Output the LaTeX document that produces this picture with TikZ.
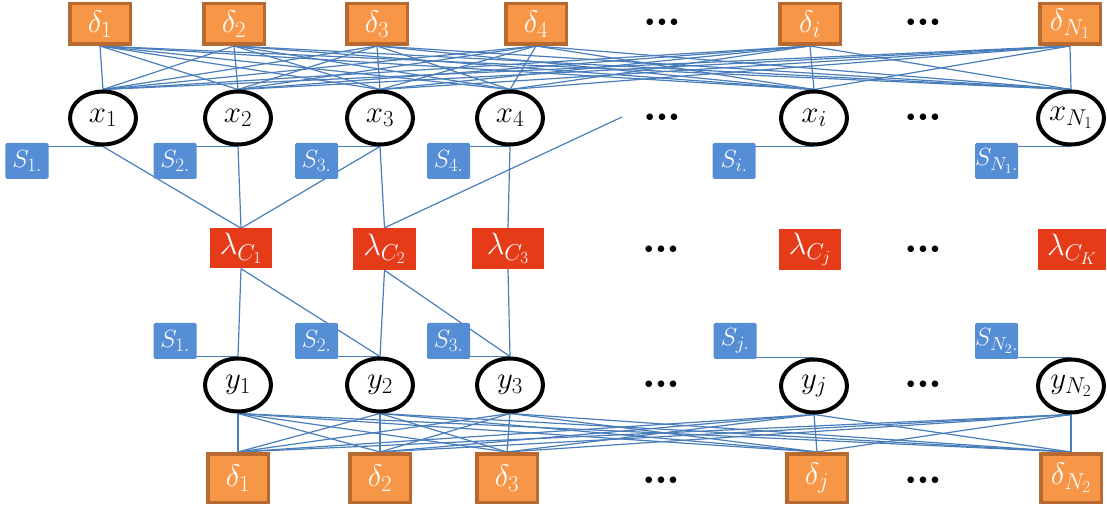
\RequirePackage{fix-cm}
\documentclass[tikz,border=0pt]{standalone}
\usetikzlibrary{backgrounds,shapes.geometric}
\DeclareMathSizes{31}{31}{23}{17}
\DeclareMathSizes{25}{25}{19}{14}
\definecolor{dfill}{HTML}{F79646}
\definecolor{dline}{HTML}{B8692F}
\definecolor{sfill}{HTML}{558ED5}
\definecolor{lred}{HTML}{E63B19}
\definecolor{conn}{HTML}{4A7EBB}
\begin{document}
\begin{tikzpicture}[x=1bp,y=-1bp,
  dbox/.style={draw=dline, line width=3.5bp, fill=dfill, text=white, minimum width=60.5bp, minimum height=40.5bp, inner sep=0pt, font=\fontsize{31}{34}\selectfont},
  dboxb/.style={dbox, minimum height=48.5bp},
  var/.style={ellipse, draw=black, line width=4bp, fill=white, minimum width=66bp, minimum height=53bp, inner sep=0pt, font=\fontsize{31}{34}\selectfont},
  sbox/.style={fill=sfill, rounded corners=1.5bp, text=white, minimum width=43bp, minimum height=36bp, inner sep=0pt, font=\fontsize{25}{28}\selectfont},
  lbox/.style={fill=lred, text=white, minimum width=62bp, minimum height=40bp, inner sep=0pt, font=\fontsize{31}{34}\selectfont},
  dotsn/.style={inner sep=0pt, font=\fontsize{17}{20}\selectfont},
  conn/.style={draw=conn, line width=1.2bp}]
\useasboundingbox (0,0) rectangle (1107,508);
% top deltas
\node[dbox] (dt1) at (100,24) {$\delta_1$};
\node[dbox] (dt2) at (234,24) {$\delta_2$};
\node[dbox] (dt3) at (377,24) {$\delta_3$};
\node[dbox] (dt4) at (536,24) {$\delta_4$};
\node[dbox] (dt5) at (810,24) {$\delta_i$};
\node[dbox] (dt6) at (1070,24) {$\delta_{N_1}$};
\node[dotsn] (da1) at (662,23) {$\bullet\bullet\bullet$};
\node[dotsn] (da2) at (923,23) {$\bullet\bullet\bullet$};
% x row
\node[var] (x1) at (103,118) {$x_1$};
\node[var] (x2) at (238,118) {$x_2$};
\node[var] (x3) at (380,118) {$x_3$};
\node[var] (x4) at (510,118) {$x_4$};
\node[var] (x5) at (814,118) {$x_i$};
\node[var] (x6) at (1071,118) {$x_{N_1}$};
\node[dotsn] (db1d) at (662,118) {$\bullet\bullet\bullet$};
\node[dotsn] (db2d) at (923,118) {$\bullet\bullet\bullet$};
% top S
\node[sbox] (s1) at (27,161) {$S_{1.}$};
\node[sbox] (s2) at (175,161) {$S_{2.}$};
\node[sbox] (s3) at (316.5,161) {$S_{3.}$};
\node[sbox] (s4) at (448.5,161) {$S_{4.}$};
\node[sbox] (s5) at (734,161) {$S_{i.}$};
\node[sbox] (s6) at (996.5,161) {$S_{N_1.}$};
% lambda row
\node[lbox] (l1) at (241,248.5) {$\lambda_{C_1}$};
\node[lbox, minimum width=63bp, minimum height=42bp] (l2) at (384.5,249) {$\lambda_{C_2}$};
\node[lbox, minimum width=72bp, minimum height=41bp] (l3) at (508,248.5) {$\lambda_{C_3}$};
\node[lbox, minimum height=41bp] (l4) at (810,249.5) {$\lambda_{C_j}$};
\node[lbox, minimum width=68bp, minimum height=41bp] (l5) at (1072,249.5) {$\lambda_{C_K}$};
\node[dotsn] (dc1) at (661,250) {$\bullet\bullet\bullet$};
\node[dotsn] (dc2) at (923,250) {$\bullet\bullet\bullet$};
% bottom S
\node[sbox] (t1) at (175,341) {$S_{1.}$};
\node[sbox] (t2) at (316.5,341) {$S_{2.}$};
\node[sbox] (t3) at (448.5,341) {$S_{3.}$};
\node[sbox] (t4) at (735,341) {$S_{j.}$};
\node[sbox] (t5) at (996.5,341) {$S_{N_2.}$};
% y row
\node[var] (y1) at (238,385) {$y_1$};
\node[var] (y2) at (380,385) {$y_2$};
\node[var] (y3) at (510,385) {$y_3$};
\node[var] (y4) at (814,386) {$y_j$};
\node[var] (y5) at (1071,386) {$y_{N_2}$};
\node[dotsn] (dd1) at (661,385) {$\bullet\bullet\bullet$};
\node[dotsn] (dd2) at (923,385) {$\bullet\bullet\bullet$};
% bottom deltas
\node[dboxb] (db1) at (238,478) {$\delta_1$};
\node[dboxb] (db2) at (380,478) {$\delta_2$};
\node[dboxb] (db3) at (507,478) {$\delta_3$};
\node[dboxb] (db4) at (817,478) {$\delta_j$};
\node[dboxb] (db5) at (1071,478) {$\delta_{N_2}$};
\node[dotsn] (de1) at (661,481) {$\bullet\bullet\bullet$};
\node[dotsn] (de2) at (923,481) {$\bullet\bullet\bullet$};
\coordinate (fe) at (622,117);
\begin{scope}[on background layer]
  \foreach \i in {1,...,6}{\foreach \j in {1,...,6}{\draw[conn] (dt\i.south) -- (x\j.north);}}
  \foreach \i in {1,...,6}{\draw[conn] (x\i.south) -- (x\i.south -| s\i.center);}
  \foreach \i in {1,...,5}{\draw[conn] (y\i.north) -- (y\i.north -| t\i.center);}
  \draw[conn] (x1.south) -- (l1.north);
  \draw[conn] (x2.south) -- (l1.north);
  \draw[conn] (x3.south) -- (l1.north);
  \draw[conn] (x3.south) -- (l2.north);
  \draw[conn] (x4.south) -- (l3.north);
  \draw[conn] (fe) -- (l2.north);
  \draw[conn] (l1.south) -- (y1.north);
  \draw[conn] (l1.south) -- (y2.north);
  \draw[conn] (l2.south) -- (y2.north);
  \draw[conn] (l2.south) -- (y3.north);
  \draw[conn] (l3.south) -- (y3.north);
  \foreach \i in {1,...,5}{\foreach \j in {1,...,5}{\draw[conn] (y\i.south) -- (db\j.north);}}
\end{scope}
\end{tikzpicture}
\end{document}
